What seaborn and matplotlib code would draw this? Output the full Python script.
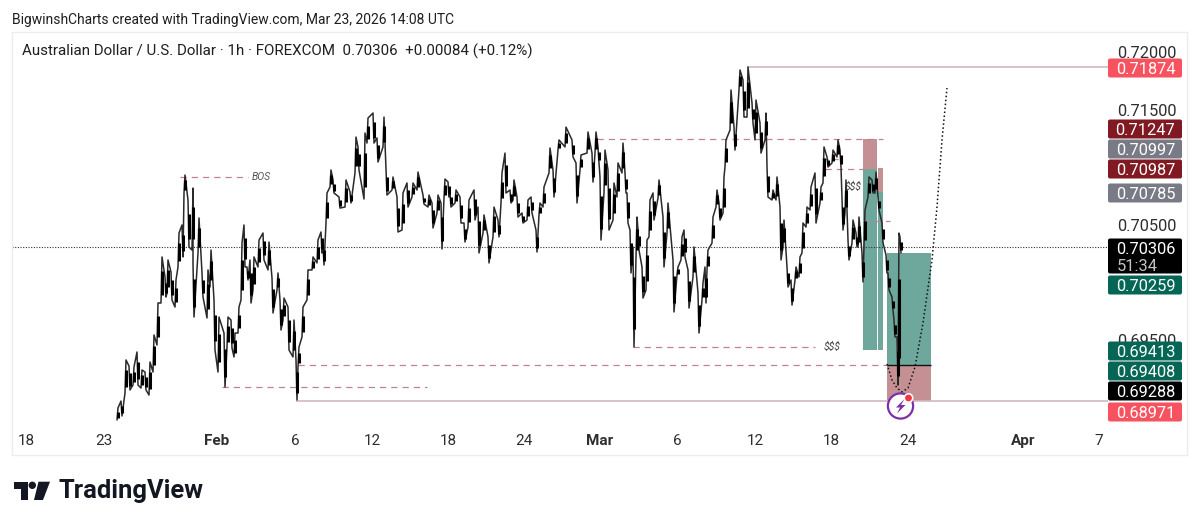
import numpy as np
import pandas as pd
import matplotlib
matplotlib.use("Agg")
import matplotlib.pyplot as plt
from matplotlib.patches import FancyBboxPatch, Circle, Polygon, Rectangle
import seaborn as sns

# ---------- data (x = chart time index, price in AUD/USD) ----------
bar_pos = [117,121,125,129,133,137,141,145,149,153,157,161,165,167,171,175,178,182,184,188,192,193,198,202,207,210,214,218,224,227,231,234,238,241,244,247,250,253,258,263,268,272,277,280,283,288,293,296,298,302,307,312,317,321,323,326,330,333,339,345,350,355,358,364,367,373,377,383,386,392,397,402,407,412,417,423,428,432,437,441,444,448,
 450,455,460,464,468,474,478,483,488,493,498,501,505,510,513,517,522,527,531,536,539,543,549,553,558,565,572,576,580,587,592,595,598,600,604,608,613,617,622,625,627,630,633,636,638,642,646,649,653,658,663,667,673,677,681,684,688,693,698,702,705,707,712,716,719,723,725,730,734,739,743,747,752,755,760,765,767,772,776,780,783,787,791,795,799,802,806,810,815,820,823,827,832,837,840,842,845,848,852,856,858,862,864,868,872,875,878,882,886,888,892,894,897,898,900]
bar_high = [.68911,.68971,.69328,.69275,.69267,.69397,.69241,.69223,.69310,.69545,.69823,.70223,.70049,.70197,.70092,.70023,.70431,.70501,.70935,.70718,.70822,.70171,.70562,.70084,.70110,.70283,.69849,.69701,.69562,.69701,.69675,.69562,.69788,.70344,.70501,.70136,.70197,.70223,.70370,.70431,.70353,.70040,.70084,.69849,.69866,.69788,.69675,.69328,.69441,.69788,.70110,.70223,.70370,.70440,.70344,.70779,.70979,.70892,.70744,.70892,.70788,.71265,.71179,.71300,.71430,.71474,.71257,.71439,.70979,.70918,.70744,.70779,.70866,.70866,.70961,.70761,.70761,.70692,.70761,.70692,.70900,.70875,
 .70779,.70805,.70744,.70518,.70718,.70805,.70657,.70588,.70397,.70657,.70544,.70953,.71126,.70805,.70892,.70744,.70605,.70718,.70744,.70457,.70692,.70831,.71170,.70979,.71240,.71352,.71240,.71040,.71109,.71309,.71126,.71309,.71179,.70918,.71152,.70979,.70866,.71040,.71213,.70953,.70779,.70457,.70310,.70570,.70457,.70136,.70370,.70718,.70779,.70892,.70570,.70692,.70197,.70136,.70397,.70457,.70110,.70310,.69910,.69997,.70136,.70283,.70570,.70805,.70692,.70918,.71240,.71674,.71352,.71848,.71761,.71874,.71561,.71587,.71387,.71474,.71005,.70805,.70918,.70657,.70544,.70136,.70023,.70136,.70223,.70518,.70657,.70831,.70953,.70831,.71179,.71092,.71152,.71240,.71152,.70744,.70892,.70370,.70544,.70431,.70570,.70258,.70631,.70918,.70892,.70961,.70744,.70518,.70240,.70084,.69875,.69675,.69528,.70431,.70397]
bar_low = [.68806,.68841,.69041,.69067,.69110,.69110,.69084,.69067,.69023,.69223,.69458,.69823,.69875,.69910,.69849,.69788,.70136,.70223,.70779,.70310,.70283,.69701,.70257,.69875,.69693,.69962,.69414,.69223,.69093,.69441,.69432,.69354,.69562,.69849,.70136,.70023,.69823,.69936,.70136,.70197,.70110,.69736,.69936,.69588,.69675,.69414,.69354,.68980,.69267,.69528,.69849,.70110,.70171,.70257,.70153,.70518,.70831,.70779,.70648,.70657,.70692,.70953,.70979,.70727,.71213,.71213,.71048,.71179,.70761,.70805,.70440,.70457,.70657,.70744,.70805,.70683,.70657,.70475,.70605,.70292,.70735,.70744,
 .70657,.70692,.70518,.70353,.70483,.70544,.70258,.70431,.70171,.70397,.70397,.70692,.70779,.70692,.70718,.70570,.70518,.70544,.70605,.70266,.70588,.70657,.70953,.70744,.71153,.71179,.71092,.70692,.70979,.71126,.70874,.71126,.71040,.70370,.70779,.70457,.70544,.70744,.70953,.70779,.70518,.70084,.69441,.70223,.70283,.69866,.69936,.70397,.70544,.70735,.70136,.70431,.69745,.70066,.70197,.70223,.69779,.70049,.69562,.69849,.69823,.70110,.70344,.70657,.70544,.70605,.71005,.71326,.71152,.71674,.71439,.71439,.71387,.71240,.71126,.71240,.70744,.70718,.70718,.70197,.70310,.69962,.69805,.70023,.70049,.70258,.70483,.70631,.70518,.70692,.70866,.71005,.71040,.71092,.71005,.70457,.70605,.70197,.70345,.70310,.70310,.70006,.70310,.70744,.70779,.70779,.70631,.70345,.70084,.69936,.69762,.69528,.69110,.69110,.70258]

forecast_pos = [887,892,897,902,908,915,923,932,937,942,947]
forecast_px = [.69293,.69154,.69084,.69050,.69084,.69267,.69649,.70197,.70657,.71240,.71691]

y_ticks = [.72, .715, .705, .695]
y_labels = ["0.72000", "0.71500", "0.70500", "0.69500"]
x_ticks = [26,104,217,295,372,448,524,600,677,755,831,908,1023,1099]
x_labels = ["18","23","Feb","6","12","18","24","Mar","6","12","18","24","Apr","7"]
bold_labels = {"Feb","Mar","Apr"}

last_price = .70306
solid_levels = [(.71874,747,1108),(.68971,296,1108)]
dash_levels = [(.70918,180,248),(.71247,597,883),(.71070,822,838),(.70987,825,865),
               (.69441,633,815),(.69288,298,887),(.69093,222,427),(.70537,863,890)]
zones = [(863,877,.69413,.70987,.70987,.71247),
         (878,883,.69413,.70785,.70785,.70997),
         (887,931,.69288,.70259,.68971,.69288)]

tag_text = ["0.71874","0.71247","0.70997","0.70987","0.70785","0.70259","0.69413","0.69408","0.69288","0.68971"]
tag_color = ["#f7525f","#801922","#787b86","#801922","#787b86","#056656","#056656","#056656","#000000","#f7525f"]
tag_top = [58,119,139,159,183,275,341,361,381,402]

# ---------- figure ----------
sns.set_style("white")
plt.rcParams["font.family"] = ["Roboto", "DejaVu Sans"]
W, H = 1199, 527
fig = plt.figure(figsize=(W/100, H/100), dpi=100, facecolor="white")
ax = fig.add_axes([12/W, (H-455)/H, 1175/W, 423/H])
ax.set_xlim(12, 1187)
ax.set_ylim(.68502, .72178)
for s in ax.spines.values():
    s.set_color("#ececec"); s.set_linewidth(1)

# zones
for x0, x1, g0, g1, r0, r1 in zones:
    ax.add_patch(Rectangle((x0, g0), x1-x0, g1-g0, fc="#6ea89d", ec="none", zorder=1))
    ax.add_patch(Rectangle((x0, r0), x1-x0, r1-r0, fc="#c49094", ec="none", zorder=1))
ax.hlines(.69288, 887, 931, color="#111111", lw=1, zorder=1.5)

# levels
ax.hlines(last_price, 12, 1108, color="#333333", lw=.8, ls=(0,(1,1.4)), zorder=1.2)
for p, a, b in solid_levels:
    ax.hlines(p, a, b, color="#d3b9bd", lw=1.2, zorder=1.3)
for p, a, b in dash_levels:
    ax.hlines(p, a, b, color="#c0809a", lw=.9, ls=(0,(5,4)), zorder=1.3)

# price path
hi, lo = np.array(bar_high), np.array(bar_low)
pos = np.array(bar_pos, float)
px, py = [], []
last = lo[0]
for x, h, l in zip(pos, hi, lo):
    a, b = (h, l) if abs(h-last) < abs(l-last) else (l, h)
    px += [x, x+1.0]; py += [a, b]; last = b
path = pd.DataFrame({"t": px, "price": py})
sns.lineplot(data=path, x="t", y="price", estimator=None, sort=False, color="#2a2a2a",
             lw=1.1, ax=ax, zorder=2)
ax.vlines(pos+.5, lo+(hi-lo)*.18, hi-(hi-lo)*.3, color="black", lw=2.2, zorder=2.1)

# forecast
sns.lineplot(x=forecast_pos, y=forecast_px, estimator=None, sort=False, color="#111111",
             lw=1.1, ls=(0,(1,1.6)), ax=ax, zorder=2.2)

ax.text(252, .70918, "BOS", style="italic", fontsize=7.5, color="#555555", va="center", zorder=3)
ax.text(845, .70835, "$$$", style="italic", fontsize=7.5, color="#444444", va="center", zorder=3)
ax.text(824, .69441, "$$$", style="italic", fontsize=7.5, color="#444444", va="center", zorder=3)

# axes text
ax.set_xlabel(""); ax.set_ylabel("")
ax.yaxis.tick_right()
ax.set_yticks(y_ticks); ax.set_yticklabels(y_labels)
ax.set_xticks(x_ticks); ax.set_xticklabels(x_labels)
ax.tick_params(axis="y", length=0, pad=-50.5, labelsize=11.8, labelcolor="#2e2e2e")
ax.tick_params(axis="x", length=0, pad=-15, labelsize=11, labelcolor="#2e2e2e")
for t in ax.get_xticklabels():
    if t.get_text() in bold_labels:
        t.set_fontweight("bold")

# overlay in pixels
ov = fig.add_axes([0, 0, 1, 1], facecolor="none", zorder=5)
ov.set_xlim(0, W); ov.set_ylim(H, 0); ov.axis("off")

def tag(top, h, color):
    ov.add_patch(FancyBboxPatch((1108, top+.5), 74, h-1, boxstyle="round,pad=0,rounding_size=2",
                                fc=color, ec="none"))
for t, c, y in zip(tag_text, tag_color, tag_top):
    tag(y, 20, c)
    ov.text(1145.5, y+10, t, color="white", ha="center", va="center_baseline", fontsize=11.8)
tag(238, 36, "#000000")
ov.text(1145.5, 248.5, "0.70306", color="white", ha="center", va="center_baseline", fontsize=11.8)
ov.text(1117, 265, "51:34", color="#c4c4c4", ha="left", va="center_baseline", fontsize=11.8)

# alert icon
ov.add_patch(Circle((900.5, 406), 12.6, fc="white", ec="#7b2fa8", lw=1.6))
ov.add_patch(Polygon([(904.5,399),(896,407.5),(900,407.5),(897,413.5),(905.5,405),(901,405)], fc="#7b2fa8", ec="none"))
ov.add_patch(Circle((908.5, 398), 5, fc="white", ec="none"))
ov.add_patch(Circle((908.5, 398), 3.4, fc="#f23645", ec="none"))

# header
ov.text(12, 20, "BigwinshCharts created with TradingView.com, Mar 23, 2026 14:08 UTC",
        fontsize=10.0, color="#1f1f1f", va="center", ha="left")
ov.text(22, 51, "Australian Dollar / U.S. Dollar \u00b7 1h \u00b7 FOREXCOM  0.70306  +0.00084 (+0.12%)",
        fontsize=10.9, color="#1f1f1f", va="center", ha="left")

# logo
ov.add_patch(Polygon([(14.3,481.7),(28.3,481.7),(28.3,500),(20.7,500),(20.7,489.3),(14.3,489.3)], fc="#131722", ec="none"))
ov.add_patch(Circle((32.3,485.3), 3.7, fc="#131722", ec="none"))
ov.add_patch(Polygon([(38.5,481.7),(50,481.7),(43,500),(34,500)], fc="#131722", ec="none"))
ov.text(58.5, 491, "TradingView", fontsize=18.4, fontweight="bold", color="#131722", va="center", ha="left")

fig.savefig("out.png", dpi=100, facecolor="white")
